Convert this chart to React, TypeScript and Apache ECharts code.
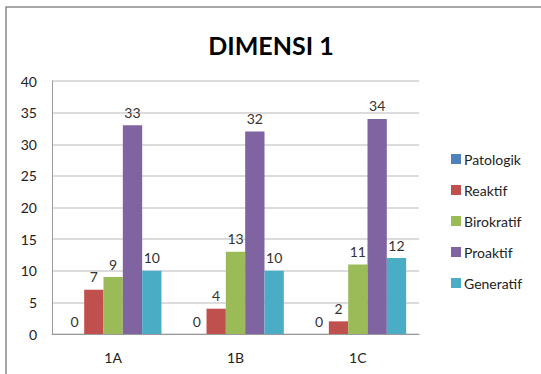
import React, { useEffect, useRef } from "react";
import * as echarts from "echarts";

const categories = ["1A", "1B", "1C"];
const seriesNames = ["Patologik", "Reaktif", "Birokratif", "Proaktif", "Generatif"];
const patologik = [0, 0, 0];
const reaktif = [7, 4, 2];
const birokratif = [9, 13, 11];
const proaktif = [33, 32, 34];
const generatif = [10, 10, 12];
const colors = ["#4F81BD", "#C0504D", "#9BBB59", "#8064A2", "#4BACC6"];

export default function App() {
  const ref = useRef<HTMLDivElement>(null);
  useEffect(() => {
    if (!ref.current) return;
    const chart = echarts.init(ref.current, null, { renderer: "svg" });
    const values = [patologik, reaktif, birokratif, proaktif, generatif];
    const font = "Lato, 'Open Sans', sans-serif";
    chart.setOption({
      animation: false,
      backgroundColor: "#ffffff",
      textStyle: { fontFamily: font },
      graphic: [
        {
          type: "rect",
          shape: { x: 6, y: 7, width: 560, height: 400 },
          style: { fill: "none", stroke: "#8a8a8a", lineWidth: 1.5 },
          silent: true,
        },
      ],
      title: {
        text: "DIMENSI 1",
        left: 266,
        textAlign: "center",
        top: 27,
        textStyle: { fontFamily: font, fontSize: 25, fontWeight: "bold", color: "#000000" },
      },
      legend: {
        orient: "vertical",
        left: 446,
        top: 147,
        itemWidth: 10,
        itemHeight: 10,
        itemGap: 17,
        icon: "rect",
        data: seriesNames,
        textStyle: { fontFamily: font, fontSize: 14, color: "#222222", padding: [0, 0, 0, -2] },
      },
      grid: { left: 52, right: 122, top: 81, bottom: 40, containLabel: false },
      xAxis: {
        type: "category",
        data: categories,
        axisLine: { show: true, lineStyle: { color: "#9a9a9a", width: 1 } },
        axisTick: { show: false },
        axisLabel: { fontFamily: font, fontSize: 14, color: "#222222", margin: 16 },
      },
      yAxis: {
        type: "value",
        min: 0,
        max: 40,
        interval: 5,
        axisLine: { show: true, lineStyle: { color: "#9a9a9a", width: 1 } },
        axisTick: { show: false },
        splitLine: { lineStyle: { color: "#d0d0d0", width: 1.5 } },
        axisLabel: { fontFamily: font, fontSize: 14, color: "#222222", margin: 15 },
      },
      series: seriesNames.map((name, i) => ({
        name,
        type: "bar",
        data: values[i],
        barGap: "0%",
        barCategoryGap: "21%",
        itemStyle: { color: colors[i] },
        label: {
          show: true,
          position: "top",
          distance: 6,
          fontFamily: font,
          fontSize: 14,
          color: "#333333",
        },
      })),
    });
    return () => chart.dispose();
  }, []);
  return (
    <div
      ref={ref}
      style={{ position: "fixed", left: 0, top: 0, width: 541, height: 374 }}
    />
  );
}
